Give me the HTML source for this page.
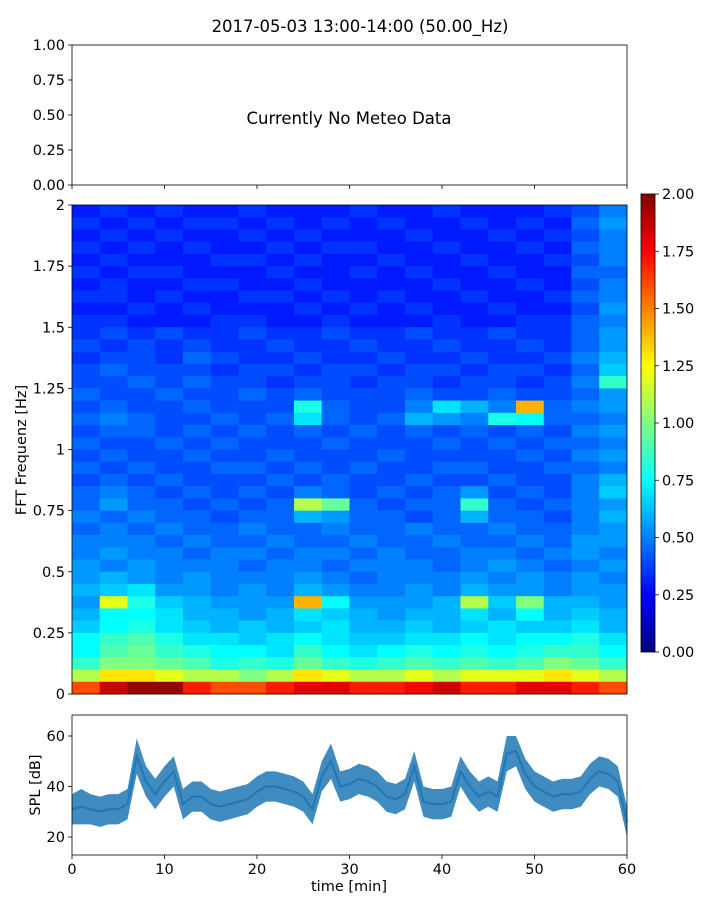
<!DOCTYPE html>
<html><head><meta charset="utf-8"><style>
body{margin:0;background:#fff;font-family:"Liberation Sans","DejaVu Sans",sans-serif}
svg text{font-family:"DejaVu Sans","Liberation Sans",sans-serif;fill:#000}
</style></head><body>
<svg id="fig" width="720" height="900" xmlns="http://www.w3.org/2000/svg">
<text x="360" y="32" font-size="16.5" text-anchor="middle">2017-05-03 13:00-14:00 (50.00_Hz)</text>
<g id="topPanel">
<rect x="72" y="45" width="555" height="140" fill="#fff" stroke="#000" stroke-width="0.8"/>
<text x="349" y="124" font-size="16.5" text-anchor="middle">Currently No Meteo Data</text>
</g>
<g id="spec"></g>
<g id="cbar"></g>
<g id="spl"></g>
</svg>
<script>
// ---- data ----
const topTicks=["0.00","0.25","0.50","0.75","1.00"];
const freqTicks=[0,0.25,0.5,0.75,1,1.25,1.5,1.75,2];
const freqTickLabels=["0","0.25","0.5","0.75","1","1.25","1.5","1.75","2"];
const cbarTicks=["0.00","0.25","0.50","0.75","1.00","1.25","1.50","1.75","2.00"];
const timeTicks=[0,10,20,30,40,50,60];
const splTicks=[20,40,60];
// spectrogram grid: rows from f=2.0 (top) down to 0 (bottom), 0.05 Hz each; columns 3 min each
const specRows=[
[.30,.35,.30,.35,.30,.30,.35,.30,.30,.30,.35,.30,.30,.35,.30,.30,.30,.35,.40,.50],
[.35,.30,.35,.30,.35,.35,.30,.35,.30,.35,.30,.35,.30,.30,.35,.30,.35,.30,.45,.55],
[.30,.35,.30,.35,.30,.30,.35,.30,.35,.30,.30,.30,.35,.30,.30,.35,.30,.35,.40,.50],
[.35,.30,.35,.30,.35,.30,.30,.35,.30,.35,.35,.30,.30,.35,.30,.30,.35,.30,.45,.50],
[.30,.35,.30,.30,.30,.35,.35,.30,.35,.30,.30,.35,.30,.30,.35,.30,.30,.35,.40,.50],
[.35,.30,.35,.35,.30,.30,.30,.35,.30,.30,.35,.30,.35,.30,.30,.35,.30,.30,.45,.45],
[.30,.35,.30,.30,.35,.35,.30,.30,.35,.30,.30,.30,.30,.35,.30,.30,.35,.30,.40,.50],
[.35,.35,.30,.35,.30,.30,.35,.35,.30,.35,.30,.35,.30,.30,.35,.30,.30,.35,.45,.50],
[.30,.30,.35,.30,.35,.30,.30,.30,.35,.30,.35,.30,.35,.30,.30,.35,.30,.30,.40,.55],
[.35,.35,.30,.30,.30,.35,.35,.30,.30,.35,.30,.30,.30,.35,.30,.30,.35,.35,.45,.50],
[.35,.40,.35,.40,.35,.35,.40,.35,.35,.40,.35,.35,.40,.35,.35,.40,.35,.35,.45,.55],
[.40,.35,.40,.35,.40,.35,.35,.40,.35,.35,.40,.35,.35,.40,.35,.35,.40,.35,.45,.55],
[.35,.40,.40,.35,.45,.40,.35,.35,.40,.35,.35,.40,.35,.35,.40,.35,.35,.40,.50,.60],
[.40,.45,.40,.40,.40,.35,.40,.40,.35,.40,.40,.35,.40,.40,.35,.40,.40,.35,.45,.65],
[.40,.40,.45,.40,.45,.40,.40,.35,.40,.40,.35,.40,.40,.35,.40,.40,.35,.40,.50,.85],
[.45,.40,.40,.45,.40,.40,.45,.40,.45,.40,.40,.40,.45,.40,.40,.45,.40,.40,.45,.55],
[.40,.45,.40,.40,.45,.40,.40,.40,.80,.45,.40,.40,.50,.70,.60,.50,1.40,.45,.50,.55],
[.45,.50,.45,.40,.40,.45,.40,.45,.70,.45,.40,.45,.60,.55,.50,.80,.75,.45,.45,.50],
[.40,.45,.45,.40,.45,.40,.45,.40,.45,.40,.45,.40,.45,.40,.45,.40,.45,.40,.50,.55],
[.45,.40,.40,.45,.40,.45,.40,.40,.40,.45,.40,.40,.40,.45,.40,.45,.40,.45,.45,.50],
[.40,.45,.40,.40,.45,.40,.40,.45,.40,.40,.40,.45,.40,.40,.40,.40,.45,.40,.50,.55],
[.45,.40,.45,.40,.40,.45,.45,.40,.45,.40,.45,.40,.40,.45,.45,.40,.40,.45,.45,.50],
[.40,.45,.40,.45,.40,.40,.40,.45,.40,.45,.40,.40,.45,.40,.40,.45,.40,.40,.50,.60],
[.45,.50,.45,.40,.45,.40,.45,.40,.50,.45,.40,.45,.40,.45,.55,.40,.45,.40,.50,.65],
[.45,.55,.45,.45,.40,.45,.40,.45,1.10,.95,.45,.40,.45,.45,.85,.45,.40,.45,.50,.55],
[.50,.45,.50,.45,.45,.40,.45,.45,.60,.55,.45,.45,.40,.45,.60,.45,.45,.40,.50,.60],
[.45,.50,.45,.50,.45,.45,.50,.45,.45,.50,.45,.45,.50,.45,.45,.50,.45,.45,.50,.55],
[.50,.50,.50,.45,.50,.45,.45,.50,.45,.45,.50,.45,.45,.50,.45,.45,.50,.45,.55,.55],
[.50,.55,.50,.50,.45,.50,.50,.45,.50,.50,.45,.50,.45,.45,.50,.50,.45,.50,.55,.50],
[.55,.50,.55,.50,.50,.50,.45,.50,.50,.45,.50,.50,.50,.45,.50,.55,.50,.45,.50,.55],
[.55,.60,.55,.50,.55,.50,.50,.50,.55,.50,.45,.50,.50,.50,.55,.50,.55,.50,.55,.50],
[.60,.65,.70,.55,.55,.50,.55,.50,.60,.55,.50,.50,.55,.50,.60,.55,.55,.50,.55,.55],
[.55,1.20,.80,.65,.60,.55,.55,.55,1.40,.75,.55,.55,.55,.60,1.10,.65,1.00,.60,.60,.55],
[.60,.75,.75,.70,.60,.60,.55,.60,.70,.65,.60,.55,.60,.60,.70,.60,.75,.60,.65,.60],
[.65,.75,.80,.70,.65,.60,.65,.60,.65,.70,.60,.60,.65,.60,.65,.70,.65,.65,.70,.60],
[.75,.85,.90,.80,.70,.70,.65,.70,.75,.70,.65,.65,.70,.70,.75,.70,.75,.75,.80,.70],
[.75,.90,.95,.85,.80,.75,.75,.70,.85,.75,.70,.75,.80,.75,.80,.75,.80,.85,.85,.75],
[.85,1.00,1.00,.95,.90,.80,.85,.80,.95,.85,.80,.85,.90,.85,.90,.85,.90,1.00,.95,.85],
[1.10,1.30,1.30,1.20,1.10,1.10,1.00,1.10,1.30,1.20,1.10,1.10,1.20,1.10,1.20,1.20,1.20,1.30,1.20,1.10],
[1.60,1.85,1.95,1.95,1.70,1.60,1.60,1.70,1.80,1.80,1.70,1.70,1.75,1.85,1.70,1.70,1.80,1.80,1.70,1.60]
];
// SPL per minute (0..60): center and half-spread of the noisy band [dB]
const splMean=[31,32,31,30,31,31,33,52,42,37,42,46,33,36,36,33,32,33,34,35,38,40,40,39,38,36,31,44,50,40,41,43,42,40,36,35,37,48,34,33,33,34,46,40,36,38,36,53,54,45,40,38,36,37,37,38,43,46,45,42,26];
const splSpread=[6,7,6,6,6,6,6,7,6,6,6,6,6,6,6,6,6,6,6,6,6,6,6,6,6,6,6,6,7,6,6,6,6,6,6,6,6,6,6,6,6,6,6,6,6,6,6,7,6,6,6,6,6,6,6,6,6,6,6,6,6];

// ---- helpers ----
const NS="http://www.w3.org/2000/svg";
function mk(tag,attrs,parent){const e=document.createElementNS(NS,tag);for(const k in attrs)e.setAttribute(k,attrs[k]);parent.appendChild(e);return e;}
function jet(v){v=Math.max(0,Math.min(1,v));
 const r=Math.max(0,Math.min(1,1.5-Math.abs(4*v-3)));
 const g=Math.max(0,Math.min(1,1.5-Math.abs(4*v-2)));
 const b=Math.max(0,Math.min(1,1.5-Math.abs(4*v-1)));
 return `rgb(${Math.round(r*255)},${Math.round(g*255)},${Math.round(b*255)})`;}
const X0=72,X1=627;
const xT=t=>X0+(X1-X0)*t/60;

// ---- top panel ticks ----
const topPanel=document.getElementById('topPanel');
topTicks.forEach((lab,i)=>{const y=185-140*i/4;
 const tk=mk('line',{x1:68,x2:72,y1:y,y2:y,stroke:'#000','stroke-width':0.8},topPanel);
 
 
 const t=mk('text',{x:65,y:y+5,'font-size':14.5,'text-anchor':'end'},topPanel);t.textContent=lab;
 
 });
timeTicks.forEach(v=>{const l=mk('line',{x1:xT(v),x2:xT(v),y1:185,y2:189,stroke:'#000','stroke-width':0.8},topPanel);
 
 });

// ---- spectrogram ----
const spec=document.getElementById('spec');
const SY0=205,SY1=694;
const fY=f=>SY1-(SY1-SY0)*f/2;
const nR=specRows.length,nC=specRows[0].length;
specRows.forEach((row,i)=>{row.forEach((v,j)=>{
 const fTop=2-i*2/nR, fBot=2-(i+1)*2/nR;
 const x=xT(j*60/nC), w=xT((j+1)*60/nC)-x;
 const r=mk('rect',{x:x,y:fY(fTop),width:w+0.3,height:fY(fBot)-fY(fTop)+0.3,fill:jet(v/2)},spec);
 
 });});
const sf=mk('rect',{x:X0,y:SY0,width:X1-X0,height:SY1-SY0,fill:'none',stroke:'#000','stroke-width':0.8},spec);


freqTicks.forEach((f,i)=>{const y=fY(f);
 const l=mk('line',{x1:68,x2:72,y1:y,y2:y,stroke:'#000','stroke-width':0.8},spec);
 
 
 const t=mk('text',{x:65,y:y+5,'font-size':14.5,'text-anchor':'end'},spec);t.textContent=freqTickLabels[i];
 
 });
const yl=mk('text',{x:26,y:450,'font-size':14.5,'text-anchor':'middle',transform:'rotate(-90 26 450)'},spec);yl.textContent='FFT Frequenz [Hz]';



// ---- colorbar ----
const cb=document.getElementById('cbar');
const CY0=194,CY1=652;
const defs=mk('defs',{},cb);
const grad=mk('linearGradient',{id:'jetg',x1:0,y1:1,x2:0,y2:0},defs);
for(let k=0;k<=8;k++){mk('stop',{offset:k/8,'stop-color':jet(k/8)},grad);}
const cr=mk('rect',{x:641,y:CY0,width:14,height:CY1-CY0,fill:'url(#jetg)',stroke:'#000','stroke-width':0.8},cb);


cbarTicks.forEach((lab,i)=>{const y=CY1-(CY1-CY0)*i/8;
 const l=mk('line',{x1:655,x2:659,y1:y,y2:y,stroke:'#000','stroke-width':0.8},cb);
 
 
 const t=mk('text',{x:662,y:y+5,'font-size':14.5},cb);t.textContent=lab;
 
 });

// ---- SPL ----
const spl=document.getElementById('spl');
const PY0=715,PY1=855;
const dY=d=>837-(d-20)*50.5/20;
let up=[],dn=[];
splMean.forEach((m,i)=>{const x=xT(i*60/(splMean.length-1));up.push(x+','+dY(m+splSpread[i]));dn.unshift(x+','+dY(m-splSpread[i]));});
const band=mk('polygon',{points:up.concat(dn).join(' '),fill:'#1f77b4','fill-opacity':0.85},spl);


const line=mk('polyline',{points:splMean.map((m,i)=>xT(i*60/(splMean.length-1))+','+dY(m)).join(' '),fill:'none',stroke:'#1f77b4','stroke-width':2},spl);


const pf=mk('rect',{x:X0,y:PY0,width:X1-X0,height:PY1-PY0,fill:'none',stroke:'#000','stroke-width':0.8},spl);


splTicks.forEach(v=>{const y=dY(v);
 const l=mk('line',{x1:68,x2:72,y1:y,y2:y,stroke:'#000','stroke-width':0.8},spl);
 
 
 const t=mk('text',{x:65,y:y+5,'font-size':14.5,'text-anchor':'end'},spl);t.textContent=v;
 
 });
timeTicks.forEach(v=>{const x=xT(v);
 const l=mk('line',{x1:x,x2:x,y1:PY1,y2:PY1+4,stroke:'#000','stroke-width':0.8},spl);
 
 
 const t=mk('text',{x:x,y:874,'font-size':14.5,'text-anchor':'middle'},spl);t.textContent=v;
 
 });
const sl=mk('text',{x:40,y:785,'font-size':14.5,'text-anchor':'middle',transform:'rotate(-90 40 785)'},spl);sl.textContent='SPL [dB]';


const xl=mk('text',{x:349,y:891,'font-size':14.5,'text-anchor':'middle'},spl);xl.textContent='time [min]';


</script>
</body></html>
